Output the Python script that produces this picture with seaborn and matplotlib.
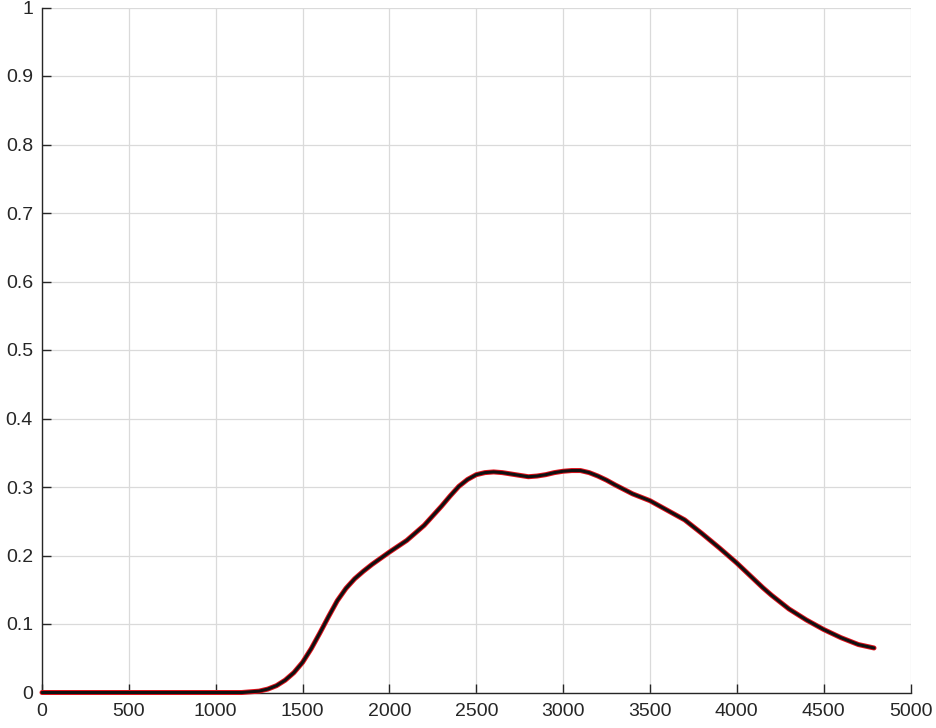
import matplotlib
matplotlib.use("Agg")
import matplotlib.pyplot as plt
import seaborn as sns
import pandas as pd

x_vals = [0, 500, 1000, 1150, 1200, 1250, 1300, 1350, 1400, 1450, 1500, 1550, 1600,
          1650, 1700, 1750, 1800, 1850, 1900, 1950, 2000, 2100, 2200, 2300, 2350,
          2400, 2450, 2500, 2550, 2600, 2650, 2700, 2750, 2800, 2850, 2900, 2950,
          3000, 3050, 3100, 3150, 3200, 3250, 3300, 3400, 3500, 3600, 3700, 3800,
          3900, 4000, 4050, 4100, 4150, 4200, 4300, 4400, 4500, 4600, 4700, 4790]
y_vals = [0, 0, 0, 0, 0.001, 0.002, 0.005, 0.010, 0.018, 0.029, 0.044, 0.064, 0.087,
          0.111, 0.134, 0.152, 0.166, 0.177, 0.187, 0.196, 0.205, 0.222, 0.244, 0.272, 0.287,
          0.301, 0.311, 0.318, 0.321, 0.322, 0.321, 0.319, 0.317, 0.315, 0.316, 0.318, 0.321,
          0.323, 0.324, 0.324, 0.321, 0.316, 0.310, 0.303, 0.290, 0.280, 0.266, 0.252, 0.232,
          0.211, 0.189, 0.177, 0.165, 0.153, 0.142, 0.122, 0.106, 0.092, 0.080, 0.070, 0.065]
x_ticks = [0, 500, 1000, 1500, 2000, 2500, 3000, 3500, 4000, 4500, 5000]
y_ticks = [0, 0.1, 0.2, 0.3, 0.4, 0.5, 0.6, 0.7, 0.8, 0.9, 1]
y_tick_labels = ["0", "0.1", "0.2", "0.3", "0.4", "0.5", "0.6", "0.7", "0.8", "0.9", "1"]

df = pd.DataFrame({"x": x_vals, "y": y_vals})

sns.set_theme(style="white")
plt.rcParams["font.family"] = ["Liberation Sans", "DejaVu Sans"]

fig = plt.figure(figsize=(9.36, 7.28), dpi=100)
ax = fig.add_axes([42 / 936, 1 - 692.5 / 728, (910.5 - 42) / 936, (692.5 - 7.5) / 728])

sns.lineplot(data=df, x="x", y="y", ax=ax, color="#e0101a", linewidth=3.6,
             clip_on=False, zorder=3)
sns.lineplot(data=df, x="x", y="y", ax=ax, color="#111111", linewidth=2.2,
             clip_on=False, zorder=4)

ax.set_xlim(0, 5000)
ax.set_ylim(0, 1)
ax.set_xticks(x_ticks)
ax.set_xticklabels([str(t) for t in x_ticks])
ax.set_yticks(y_ticks)
ax.set_yticklabels(y_tick_labels)
ax.set_xlabel("")
ax.set_ylabel("")

ax.grid(True, color="#dadada", linewidth=0.9)
ax.set_axisbelow(True)
for side in ["top", "right"]:
    ax.spines[side].set_visible(False)
for side in ["left", "bottom"]:
    ax.spines[side].set_color("#262626")
    ax.spines[side].set_linewidth(1.0)
ax.tick_params(axis="both", direction="in", length=6.5, width=1.0, color="#262626",
               labelsize=14, labelcolor="#262626", left=True, bottom=True)
ax.tick_params(axis="x", pad=7.5)
ax.tick_params(axis="y", pad=6.5)

fig.savefig("out.png", dpi=100)
